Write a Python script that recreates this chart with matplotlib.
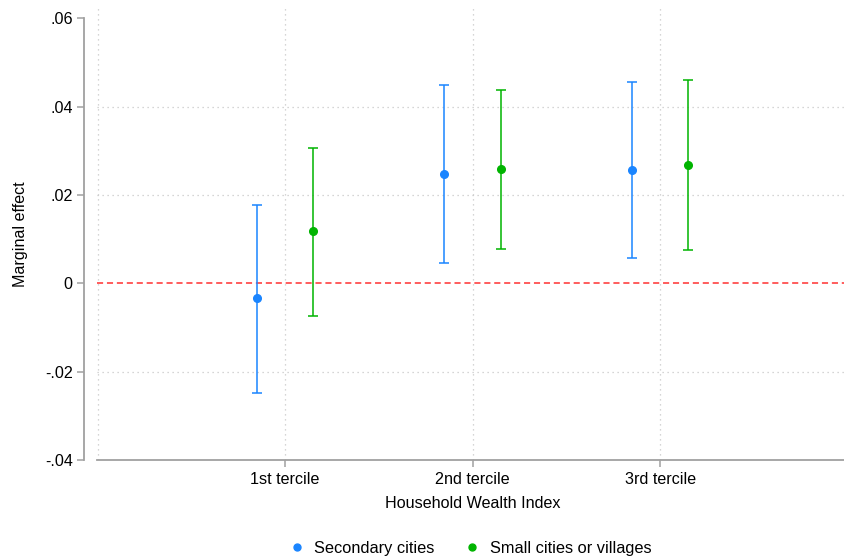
import matplotlib
matplotlib.use("Agg")
import matplotlib.pyplot as plt
from matplotlib.lines import Line2D
import numpy as np

plt.rcParams['font.family'] = ['Liberation Sans', 'DejaVu Sans']

# data
terciles = ['1st tercile', '2nd tercile', '3rd tercile']
series = ['Secondary cities', 'Small cities or villages']
est_secondary = [-0.0034, 0.0247, 0.0256]
lo_secondary = [-0.0248, 0.0045, 0.0057]
hi_secondary = [0.0177, 0.0448, 0.0456]
est_small = [0.0118, 0.0258, 0.0268]
lo_small = [-0.0073, 0.0078, 0.0076]
hi_small = [0.0306, 0.0438, 0.0461]

blue = '#1a85ff'
green = '#00b400'
axis_grey = '#a0a0a0'

fig = plt.figure(figsize=(8.45, 5.57), dpi=100)
ax = fig.add_axes([97/845, 1-460/557, 751/845, 452/557])

x = np.arange(1, len(terciles) + 1)
off = 0.15

for est, lo, hi, col, dx in [
        (est_secondary, lo_secondary, hi_secondary, blue, -off),
        (est_small, lo_small, hi_small, green, off)]:
    est = np.array(est)
    yerr = [est - np.array(lo), np.array(hi) - est]
    ax.errorbar(x + dx, est, yerr=yerr, fmt='o', color=col, ecolor=col,
                markersize=5.5, elinewidth=1.1, capsize=3.5, capthick=1.1,
                zorder=3)

# zero reference line
ax.axhline(0, color='#ff3030', linestyle=(0, (4, 2.5)), linewidth=1.1, zorder=2)

ax.set_xlim(0, 4)
ax.set_ylim(-0.04, 0.0623)
ax.set_xticks(x)
ax.set_xticklabels(terciles)
yt = [-0.04, -0.02, 0, 0.02, 0.04, 0.06]
ax.set_yticks(yt)
ax.set_yticklabels(['-.04', '-.02', '0', '.02', '.04', '.06'])

# dotted grid like Stata
for yy in [-0.02, 0.02, 0.04]:
    ax.axhline(yy, color='#c8c8c8', linestyle=(0, (1, 3)), linewidth=0.9, zorder=1)
for xx in [0.005, 1, 2, 3]:
    ax.axvline(xx, color='#c8c8c8', linestyle=(0, (1, 3)), linewidth=0.9, zorder=1)

for s in ['top', 'right']:
    ax.spines[s].set_visible(False)
ax.spines['left'].set_position(('outward', 9.4))
ax.spines['left'].set_bounds(-0.04, 0.06)
for s in ['left', 'bottom']:
    ax.spines[s].set_color(axis_grey)
    ax.spines[s].set_linewidth(1.3)
ax.tick_params(axis='both', colors=axis_grey, labelcolor='black',
               labelsize=11.6, length=5, width=1.1)
ax.tick_params(axis='y', pad=3)
ax.tick_params(axis='x', pad=4)

ax.set_xlabel('Household Wealth Index', fontsize=11.6, labelpad=6)
ax.set_ylabel('Marginal effect', fontsize=11.6, labelpad=12)

handles = [Line2D([], [], marker='o', linestyle='none', color=blue, markersize=5),
           Line2D([], [], marker='o', linestyle='none', color=green, markersize=5)]
fig.legend(handles, series, loc='center', bbox_to_anchor=(470/845, 1-548/557),
           ncol=2, frameon=False, fontsize=11.8, handlelength=1.0,
           handletextpad=0.55, columnspacing=1.8, borderpad=0)

fig.savefig('out.png', dpi=100, facecolor='white')
